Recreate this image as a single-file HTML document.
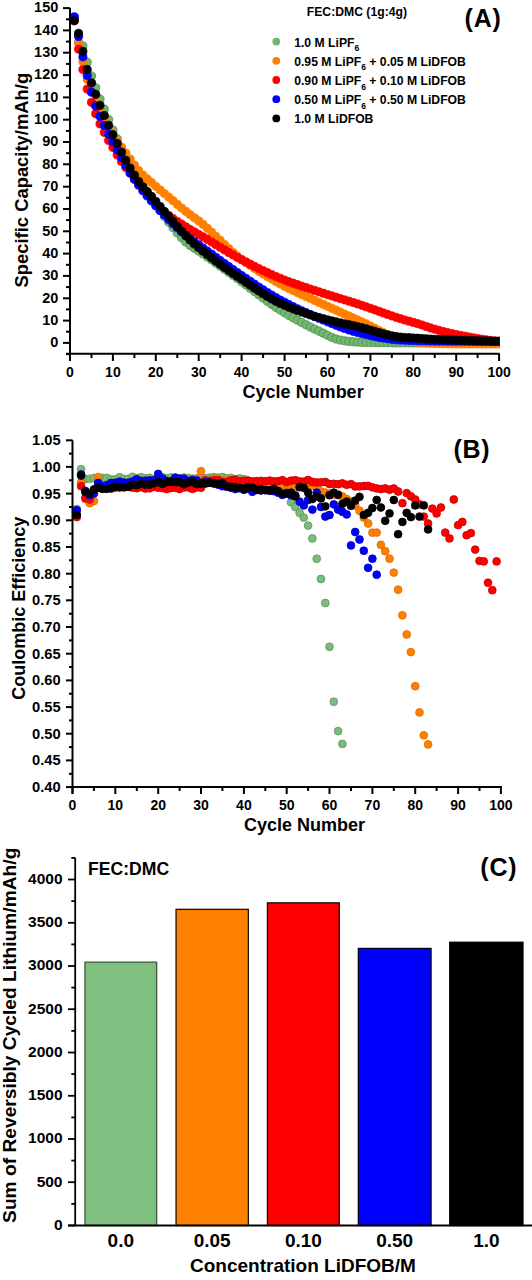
<!DOCTYPE html>
<html><head><meta charset="utf-8"><style>
html,body{margin:0;padding:0;background:#fff;width:532px;height:1280px;overflow:hidden;position:relative}
</style></head><body>
<svg width="532" height="1280" viewBox="0 0 532 1280" style="position:absolute;left:0;top:0">
<rect width="532" height="1280" fill="#fff"/>
<defs><clipPath id="clipA"><rect x="69" y="0" width="430.6" height="360"/></clipPath></defs>
<g clip-path="url(#clipA)">
<g fill="#70b870" stroke="#4a8f4a" stroke-width="0.8"><circle cx="74.3" cy="18.1" r="4.1"/><circle cx="78.6" cy="42.7" r="4.1"/><circle cx="82.9" cy="46.0" r="4.1"/><circle cx="87.2" cy="62.3" r="4.1"/><circle cx="91.5" cy="76.0" r="4.1"/><circle cx="95.7" cy="87.8" r="4.1"/><circle cx="100.0" cy="99.2" r="4.1"/><circle cx="104.3" cy="109.2" r="4.1"/><circle cx="108.6" cy="119.7" r="4.1"/><circle cx="112.9" cy="130.0" r="4.1"/><circle cx="117.2" cy="138.9" r="4.1"/><circle cx="121.5" cy="148.3" r="4.1"/><circle cx="125.8" cy="156.8" r="4.1"/><circle cx="130.1" cy="164.8" r="4.1"/><circle cx="134.4" cy="172.1" r="4.1"/><circle cx="138.7" cy="179.1" r="4.1"/><circle cx="142.9" cy="185.6" r="4.1"/><circle cx="147.2" cy="191.9" r="4.1"/><circle cx="151.5" cy="198.1" r="4.1"/><circle cx="155.8" cy="204.4" r="4.1"/><circle cx="160.1" cy="210.6" r="4.1"/><circle cx="164.4" cy="216.6" r="4.1"/><circle cx="168.7" cy="222.1" r="4.1"/><circle cx="173.0" cy="227.6" r="4.1"/><circle cx="177.3" cy="232.9" r="4.1"/><circle cx="181.6" cy="237.8" r="4.1"/><circle cx="185.9" cy="242.1" r="4.1"/><circle cx="190.1" cy="245.5" r="4.1"/><circle cx="194.4" cy="248.3" r="4.1"/><circle cx="198.7" cy="251.0" r="4.1"/><circle cx="203.0" cy="253.9" r="4.1"/><circle cx="207.3" cy="256.9" r="4.1"/><circle cx="211.6" cy="259.9" r="4.1"/><circle cx="215.9" cy="263.0" r="4.1"/><circle cx="220.2" cy="266.1" r="4.1"/><circle cx="224.5" cy="269.2" r="4.1"/><circle cx="228.8" cy="272.3" r="4.1"/><circle cx="233.1" cy="275.4" r="4.1"/><circle cx="237.3" cy="278.5" r="4.1"/><circle cx="241.6" cy="281.7" r="4.1"/><circle cx="245.9" cy="284.9" r="4.1"/><circle cx="250.2" cy="288.2" r="4.1"/><circle cx="254.5" cy="291.5" r="4.1"/><circle cx="258.8" cy="294.8" r="4.1"/><circle cx="263.1" cy="298.1" r="4.1"/><circle cx="267.4" cy="301.3" r="4.1"/><circle cx="271.7" cy="304.4" r="4.1"/><circle cx="276.0" cy="307.4" r="4.1"/><circle cx="280.3" cy="310.1" r="4.1"/><circle cx="284.6" cy="312.8" r="4.1"/><circle cx="288.8" cy="315.3" r="4.1"/><circle cx="293.1" cy="317.8" r="4.1"/><circle cx="297.4" cy="320.2" r="4.1"/><circle cx="301.7" cy="322.5" r="4.1"/><circle cx="306.0" cy="324.8" r="4.1"/><circle cx="310.3" cy="327.0" r="4.1"/><circle cx="314.6" cy="329.1" r="4.1"/><circle cx="318.9" cy="331.1" r="4.1"/><circle cx="323.2" cy="333.2" r="4.1"/><circle cx="327.5" cy="335.3" r="4.1"/><circle cx="331.8" cy="337.4" r="4.1"/><circle cx="336.0" cy="339.0" r="4.1"/><circle cx="340.3" cy="340.1" r="4.1"/><circle cx="344.6" cy="340.8" r="4.1"/><circle cx="348.9" cy="341.4" r="4.1"/><circle cx="353.2" cy="341.8" r="4.1"/><circle cx="357.5" cy="342.1" r="4.1"/><circle cx="361.8" cy="342.3" r="4.1"/><circle cx="366.1" cy="342.4" r="4.1"/><circle cx="370.4" cy="342.5" r="4.1"/><circle cx="374.7" cy="342.6" r="4.1"/><circle cx="379.0" cy="342.7" r="4.1"/><circle cx="383.2" cy="342.7" r="4.1"/><circle cx="387.5" cy="342.8" r="4.1"/><circle cx="391.8" cy="342.8" r="4.1"/><circle cx="396.1" cy="342.9" r="4.1"/><circle cx="400.4" cy="342.9" r="4.1"/><circle cx="404.7" cy="342.9" r="4.1"/><circle cx="409.0" cy="342.9" r="4.1"/><circle cx="413.3" cy="343.0" r="4.1"/><circle cx="417.6" cy="343.0" r="4.1"/><circle cx="421.9" cy="343.0" r="4.1"/><circle cx="426.2" cy="343.0" r="4.1"/><circle cx="430.4" cy="343.0" r="4.1"/><circle cx="434.7" cy="343.0" r="4.1"/><circle cx="439.0" cy="343.0" r="4.1"/><circle cx="443.3" cy="343.1" r="4.1"/><circle cx="447.6" cy="343.1" r="4.1"/><circle cx="451.9" cy="343.1" r="4.1"/><circle cx="456.2" cy="343.1" r="4.1"/><circle cx="460.5" cy="343.1" r="4.1"/><circle cx="464.8" cy="343.1" r="4.1"/><circle cx="469.1" cy="343.1" r="4.1"/><circle cx="473.4" cy="343.1" r="4.1"/><circle cx="477.6" cy="343.1" r="4.1"/><circle cx="481.9" cy="343.1" r="4.1"/><circle cx="486.2" cy="343.1" r="4.1"/><circle cx="490.5" cy="343.1" r="4.1"/><circle cx="494.8" cy="343.1" r="4.1"/><circle cx="499.1" cy="343.1" r="4.1"/></g>
<g fill="#ff8000" stroke="#ff8000" stroke-width="0.8"><circle cx="74.3" cy="19.3" r="4.1"/><circle cx="78.6" cy="42.5" r="4.1"/><circle cx="82.9" cy="61.7" r="4.1"/><circle cx="87.2" cy="79.5" r="4.1"/><circle cx="91.5" cy="91.7" r="4.1"/><circle cx="95.7" cy="101.8" r="4.1"/><circle cx="100.0" cy="111.3" r="4.1"/><circle cx="104.3" cy="119.7" r="4.1"/><circle cx="108.6" cy="127.3" r="4.1"/><circle cx="112.9" cy="134.2" r="4.1"/><circle cx="117.2" cy="140.8" r="4.1"/><circle cx="121.5" cy="147.0" r="4.1"/><circle cx="125.8" cy="153.0" r="4.1"/><circle cx="130.1" cy="159.0" r="4.1"/><circle cx="134.4" cy="165.0" r="4.1"/><circle cx="138.7" cy="170.7" r="4.1"/><circle cx="142.9" cy="175.1" r="4.1"/><circle cx="147.2" cy="178.9" r="4.1"/><circle cx="151.5" cy="182.6" r="4.1"/><circle cx="155.8" cy="186.3" r="4.1"/><circle cx="160.1" cy="189.9" r="4.1"/><circle cx="164.4" cy="193.5" r="4.1"/><circle cx="168.7" cy="197.1" r="4.1"/><circle cx="173.0" cy="200.7" r="4.1"/><circle cx="177.3" cy="204.4" r="4.1"/><circle cx="181.6" cy="208.0" r="4.1"/><circle cx="185.9" cy="211.4" r="4.1"/><circle cx="190.1" cy="214.7" r="4.1"/><circle cx="194.4" cy="217.8" r="4.1"/><circle cx="198.7" cy="220.9" r="4.1"/><circle cx="203.0" cy="224.4" r="4.1"/><circle cx="207.3" cy="228.2" r="4.1"/><circle cx="211.6" cy="232.2" r="4.1"/><circle cx="215.9" cy="236.3" r="4.1"/><circle cx="220.2" cy="240.4" r="4.1"/><circle cx="224.5" cy="244.6" r="4.1"/><circle cx="228.8" cy="248.6" r="4.1"/><circle cx="233.1" cy="252.5" r="4.1"/><circle cx="237.3" cy="256.1" r="4.1"/><circle cx="241.6" cy="259.4" r="4.1"/><circle cx="245.9" cy="262.5" r="4.1"/><circle cx="250.2" cy="265.5" r="4.1"/><circle cx="254.5" cy="268.4" r="4.1"/><circle cx="258.8" cy="271.3" r="4.1"/><circle cx="263.1" cy="274.0" r="4.1"/><circle cx="267.4" cy="276.6" r="4.1"/><circle cx="271.7" cy="279.1" r="4.1"/><circle cx="276.0" cy="281.6" r="4.1"/><circle cx="280.3" cy="284.0" r="4.1"/><circle cx="284.6" cy="286.3" r="4.1"/><circle cx="288.8" cy="288.4" r="4.1"/><circle cx="293.1" cy="290.5" r="4.1"/><circle cx="297.4" cy="292.6" r="4.1"/><circle cx="301.7" cy="294.6" r="4.1"/><circle cx="306.0" cy="296.5" r="4.1"/><circle cx="310.3" cy="298.4" r="4.1"/><circle cx="314.6" cy="300.4" r="4.1"/><circle cx="318.9" cy="302.4" r="4.1"/><circle cx="323.2" cy="304.3" r="4.1"/><circle cx="327.5" cy="306.3" r="4.1"/><circle cx="331.8" cy="308.3" r="4.1"/><circle cx="336.0" cy="310.2" r="4.1"/><circle cx="340.3" cy="312.2" r="4.1"/><circle cx="344.6" cy="314.1" r="4.1"/><circle cx="348.9" cy="316.0" r="4.1"/><circle cx="353.2" cy="317.9" r="4.1"/><circle cx="357.5" cy="319.9" r="4.1"/><circle cx="361.8" cy="321.8" r="4.1"/><circle cx="366.1" cy="323.9" r="4.1"/><circle cx="370.4" cy="326.1" r="4.1"/><circle cx="374.7" cy="328.3" r="4.1"/><circle cx="379.0" cy="330.5" r="4.1"/><circle cx="383.2" cy="332.6" r="4.1"/><circle cx="387.5" cy="334.5" r="4.1"/><circle cx="391.8" cy="336.3" r="4.1"/><circle cx="396.1" cy="337.8" r="4.1"/><circle cx="400.4" cy="339.0" r="4.1"/><circle cx="404.7" cy="339.9" r="4.1"/><circle cx="409.0" cy="340.8" r="4.1"/><circle cx="413.3" cy="341.5" r="4.1"/><circle cx="417.6" cy="342.0" r="4.1"/><circle cx="421.9" cy="342.4" r="4.1"/><circle cx="426.2" cy="342.8" r="4.1"/><circle cx="430.4" cy="343.1" r="4.1"/><circle cx="434.7" cy="343.4" r="4.1"/><circle cx="439.0" cy="343.6" r="4.1"/><circle cx="443.3" cy="343.7" r="4.1"/><circle cx="447.6" cy="343.8" r="4.1"/><circle cx="451.9" cy="343.9" r="4.1"/><circle cx="456.2" cy="344.0" r="4.1"/><circle cx="460.5" cy="344.0" r="4.1"/><circle cx="464.8" cy="344.0" r="4.1"/><circle cx="469.1" cy="344.0" r="4.1"/><circle cx="473.4" cy="344.0" r="4.1"/><circle cx="477.6" cy="344.0" r="4.1"/><circle cx="481.9" cy="344.0" r="4.1"/><circle cx="486.2" cy="344.0" r="4.1"/><circle cx="490.5" cy="344.0" r="4.1"/><circle cx="494.8" cy="344.0" r="4.1"/><circle cx="499.1" cy="344.0" r="4.1"/></g>
<g fill="#ff0000" stroke="#ff0000" stroke-width="0.8"><circle cx="74.3" cy="20.4" r="4.1"/><circle cx="78.6" cy="49.2" r="4.1"/><circle cx="82.9" cy="69.5" r="4.1"/><circle cx="87.2" cy="89.1" r="4.1"/><circle cx="91.5" cy="102.3" r="4.1"/><circle cx="95.7" cy="113.7" r="4.1"/><circle cx="100.0" cy="123.9" r="4.1"/><circle cx="104.3" cy="132.4" r="4.1"/><circle cx="108.6" cy="140.5" r="4.1"/><circle cx="112.9" cy="147.4" r="4.1"/><circle cx="117.2" cy="155.0" r="4.1"/><circle cx="121.5" cy="161.4" r="4.1"/><circle cx="125.8" cy="167.5" r="4.1"/><circle cx="130.1" cy="173.3" r="4.1"/><circle cx="134.4" cy="178.9" r="4.1"/><circle cx="138.7" cy="184.4" r="4.1"/><circle cx="142.9" cy="189.8" r="4.1"/><circle cx="147.2" cy="195.1" r="4.1"/><circle cx="151.5" cy="199.9" r="4.1"/><circle cx="155.8" cy="204.2" r="4.1"/><circle cx="160.1" cy="208.3" r="4.1"/><circle cx="164.4" cy="212.1" r="4.1"/><circle cx="168.7" cy="215.4" r="4.1"/><circle cx="173.0" cy="218.6" r="4.1"/><circle cx="177.3" cy="221.5" r="4.1"/><circle cx="181.6" cy="224.2" r="4.1"/><circle cx="185.9" cy="226.9" r="4.1"/><circle cx="190.1" cy="229.5" r="4.1"/><circle cx="194.4" cy="231.9" r="4.1"/><circle cx="198.7" cy="234.4" r="4.1"/><circle cx="203.0" cy="236.9" r="4.1"/><circle cx="207.3" cy="239.4" r="4.1"/><circle cx="211.6" cy="242.0" r="4.1"/><circle cx="215.9" cy="244.7" r="4.1"/><circle cx="220.2" cy="247.3" r="4.1"/><circle cx="224.5" cy="249.9" r="4.1"/><circle cx="228.8" cy="252.5" r="4.1"/><circle cx="233.1" cy="254.9" r="4.1"/><circle cx="237.3" cy="257.4" r="4.1"/><circle cx="241.6" cy="259.7" r="4.1"/><circle cx="245.9" cy="261.9" r="4.1"/><circle cx="250.2" cy="264.2" r="4.1"/><circle cx="254.5" cy="266.4" r="4.1"/><circle cx="258.8" cy="268.6" r="4.1"/><circle cx="263.1" cy="270.7" r="4.1"/><circle cx="267.4" cy="272.7" r="4.1"/><circle cx="271.7" cy="274.7" r="4.1"/><circle cx="276.0" cy="276.6" r="4.1"/><circle cx="280.3" cy="278.3" r="4.1"/><circle cx="284.6" cy="280.0" r="4.1"/><circle cx="288.8" cy="281.7" r="4.1"/><circle cx="293.1" cy="283.2" r="4.1"/><circle cx="297.4" cy="284.7" r="4.1"/><circle cx="301.7" cy="286.2" r="4.1"/><circle cx="306.0" cy="287.6" r="4.1"/><circle cx="310.3" cy="289.0" r="4.1"/><circle cx="314.6" cy="290.4" r="4.1"/><circle cx="318.9" cy="291.8" r="4.1"/><circle cx="323.2" cy="293.2" r="4.1"/><circle cx="327.5" cy="294.6" r="4.1"/><circle cx="331.8" cy="295.9" r="4.1"/><circle cx="336.0" cy="297.2" r="4.1"/><circle cx="340.3" cy="298.6" r="4.1"/><circle cx="344.6" cy="299.9" r="4.1"/><circle cx="348.9" cy="301.2" r="4.1"/><circle cx="353.2" cy="302.5" r="4.1"/><circle cx="357.5" cy="303.9" r="4.1"/><circle cx="361.8" cy="305.3" r="4.1"/><circle cx="366.1" cy="306.8" r="4.1"/><circle cx="370.4" cy="308.3" r="4.1"/><circle cx="374.7" cy="309.8" r="4.1"/><circle cx="379.0" cy="311.3" r="4.1"/><circle cx="383.2" cy="312.9" r="4.1"/><circle cx="387.5" cy="314.4" r="4.1"/><circle cx="391.8" cy="315.9" r="4.1"/><circle cx="396.1" cy="317.3" r="4.1"/><circle cx="400.4" cy="318.7" r="4.1"/><circle cx="404.7" cy="320.0" r="4.1"/><circle cx="409.0" cy="321.2" r="4.1"/><circle cx="413.3" cy="322.4" r="4.1"/><circle cx="417.6" cy="323.7" r="4.1"/><circle cx="421.9" cy="325.0" r="4.1"/><circle cx="426.2" cy="326.5" r="4.1"/><circle cx="430.4" cy="327.9" r="4.1"/><circle cx="434.7" cy="329.2" r="4.1"/><circle cx="439.0" cy="330.4" r="4.1"/><circle cx="443.3" cy="331.5" r="4.1"/><circle cx="447.6" cy="332.6" r="4.1"/><circle cx="451.9" cy="333.6" r="4.1"/><circle cx="456.2" cy="334.5" r="4.1"/><circle cx="460.5" cy="335.4" r="4.1"/><circle cx="464.8" cy="336.2" r="4.1"/><circle cx="469.1" cy="337.0" r="4.1"/><circle cx="473.4" cy="337.8" r="4.1"/><circle cx="477.6" cy="338.5" r="4.1"/><circle cx="481.9" cy="339.2" r="4.1"/><circle cx="486.2" cy="339.8" r="4.1"/><circle cx="490.5" cy="340.5" r="4.1"/><circle cx="494.8" cy="341.0" r="4.1"/><circle cx="499.1" cy="341.6" r="4.1"/></g>
<g fill="#0000ff" stroke="#0000ff" stroke-width="0.8"><circle cx="74.3" cy="16.8" r="4.1"/><circle cx="78.6" cy="36.4" r="4.1"/><circle cx="82.9" cy="56.8" r="4.1"/><circle cx="87.2" cy="75.5" r="4.1"/><circle cx="91.5" cy="92.2" r="4.1"/><circle cx="95.7" cy="106.1" r="4.1"/><circle cx="100.0" cy="116.4" r="4.1"/><circle cx="104.3" cy="125.5" r="4.1"/><circle cx="108.6" cy="134.2" r="4.1"/><circle cx="112.9" cy="141.8" r="4.1"/><circle cx="117.2" cy="149.8" r="4.1"/><circle cx="121.5" cy="157.6" r="4.1"/><circle cx="125.8" cy="165.5" r="4.1"/><circle cx="130.1" cy="172.8" r="4.1"/><circle cx="134.4" cy="179.3" r="4.1"/><circle cx="138.7" cy="185.2" r="4.1"/><circle cx="142.9" cy="190.7" r="4.1"/><circle cx="147.2" cy="195.9" r="4.1"/><circle cx="151.5" cy="200.9" r="4.1"/><circle cx="155.8" cy="205.8" r="4.1"/><circle cx="160.1" cy="210.5" r="4.1"/><circle cx="164.4" cy="215.0" r="4.1"/><circle cx="168.7" cy="219.4" r="4.1"/><circle cx="173.0" cy="223.7" r="4.1"/><circle cx="177.3" cy="227.8" r="4.1"/><circle cx="181.6" cy="231.8" r="4.1"/><circle cx="185.9" cy="235.5" r="4.1"/><circle cx="190.1" cy="238.9" r="4.1"/><circle cx="194.4" cy="241.9" r="4.1"/><circle cx="198.7" cy="244.9" r="4.1"/><circle cx="203.0" cy="248.0" r="4.1"/><circle cx="207.3" cy="251.1" r="4.1"/><circle cx="211.6" cy="254.2" r="4.1"/><circle cx="215.9" cy="257.3" r="4.1"/><circle cx="220.2" cy="260.5" r="4.1"/><circle cx="224.5" cy="263.6" r="4.1"/><circle cx="228.8" cy="266.6" r="4.1"/><circle cx="233.1" cy="269.7" r="4.1"/><circle cx="237.3" cy="272.6" r="4.1"/><circle cx="241.6" cy="275.5" r="4.1"/><circle cx="245.9" cy="278.4" r="4.1"/><circle cx="250.2" cy="281.3" r="4.1"/><circle cx="254.5" cy="284.2" r="4.1"/><circle cx="258.8" cy="287.1" r="4.1"/><circle cx="263.1" cy="289.8" r="4.1"/><circle cx="267.4" cy="292.6" r="4.1"/><circle cx="271.7" cy="295.2" r="4.1"/><circle cx="276.0" cy="297.7" r="4.1"/><circle cx="280.3" cy="300.1" r="4.1"/><circle cx="284.6" cy="302.3" r="4.1"/><circle cx="288.8" cy="304.5" r="4.1"/><circle cx="293.1" cy="306.7" r="4.1"/><circle cx="297.4" cy="308.8" r="4.1"/><circle cx="301.7" cy="310.8" r="4.1"/><circle cx="306.0" cy="312.7" r="4.1"/><circle cx="310.3" cy="314.6" r="4.1"/><circle cx="314.6" cy="316.5" r="4.1"/><circle cx="318.9" cy="318.3" r="4.1"/><circle cx="323.2" cy="320.0" r="4.1"/><circle cx="327.5" cy="321.8" r="4.1"/><circle cx="331.8" cy="323.5" r="4.1"/><circle cx="336.0" cy="325.2" r="4.1"/><circle cx="340.3" cy="326.9" r="4.1"/><circle cx="344.6" cy="328.4" r="4.1"/><circle cx="348.9" cy="329.9" r="4.1"/><circle cx="353.2" cy="331.3" r="4.1"/><circle cx="357.5" cy="332.4" r="4.1"/><circle cx="361.8" cy="333.5" r="4.1"/><circle cx="366.1" cy="334.5" r="4.1"/><circle cx="370.4" cy="335.5" r="4.1"/><circle cx="374.7" cy="336.4" r="4.1"/><circle cx="379.0" cy="337.3" r="4.1"/><circle cx="383.2" cy="338.0" r="4.1"/><circle cx="387.5" cy="338.7" r="4.1"/><circle cx="391.8" cy="339.3" r="4.1"/><circle cx="396.1" cy="339.7" r="4.1"/><circle cx="400.4" cy="340.0" r="4.1"/><circle cx="404.7" cy="340.2" r="4.1"/><circle cx="409.0" cy="340.4" r="4.1"/><circle cx="413.3" cy="340.6" r="4.1"/><circle cx="417.6" cy="340.7" r="4.1"/><circle cx="421.9" cy="340.8" r="4.1"/><circle cx="426.2" cy="340.9" r="4.1"/><circle cx="430.4" cy="341.0" r="4.1"/><circle cx="434.7" cy="341.1" r="4.1"/><circle cx="439.0" cy="341.1" r="4.1"/><circle cx="443.3" cy="341.1" r="4.1"/><circle cx="447.6" cy="341.2" r="4.1"/><circle cx="451.9" cy="341.2" r="4.1"/><circle cx="456.2" cy="341.2" r="4.1"/><circle cx="460.5" cy="341.2" r="4.1"/><circle cx="464.8" cy="341.2" r="4.1"/><circle cx="469.1" cy="341.3" r="4.1"/><circle cx="473.4" cy="341.3" r="4.1"/><circle cx="477.6" cy="341.3" r="4.1"/><circle cx="481.9" cy="341.4" r="4.1"/><circle cx="486.2" cy="341.4" r="4.1"/><circle cx="490.5" cy="341.5" r="4.1"/><circle cx="494.8" cy="341.5" r="4.1"/><circle cx="499.1" cy="341.6" r="4.1"/></g>
<g fill="#000000" stroke="#000000" stroke-width="0.8"><circle cx="74.3" cy="20.8" r="4.1"/><circle cx="78.6" cy="33.3" r="4.1"/><circle cx="82.9" cy="51.4" r="4.1"/><circle cx="87.2" cy="69.5" r="4.1"/><circle cx="91.5" cy="82.9" r="4.1"/><circle cx="95.7" cy="94.3" r="4.1"/><circle cx="100.0" cy="105.4" r="4.1"/><circle cx="104.3" cy="115.5" r="4.1"/><circle cx="108.6" cy="125.3" r="4.1"/><circle cx="112.9" cy="134.7" r="4.1"/><circle cx="117.2" cy="143.5" r="4.1"/><circle cx="121.5" cy="152.1" r="4.1"/><circle cx="125.8" cy="160.4" r="4.1"/><circle cx="130.1" cy="168.1" r="4.1"/><circle cx="134.4" cy="175.2" r="4.1"/><circle cx="138.7" cy="181.6" r="4.1"/><circle cx="142.9" cy="186.9" r="4.1"/><circle cx="147.2" cy="191.6" r="4.1"/><circle cx="151.5" cy="196.4" r="4.1"/><circle cx="155.8" cy="201.4" r="4.1"/><circle cx="160.1" cy="206.5" r="4.1"/><circle cx="164.4" cy="211.5" r="4.1"/><circle cx="168.7" cy="216.4" r="4.1"/><circle cx="173.0" cy="221.4" r="4.1"/><circle cx="177.3" cy="226.4" r="4.1"/><circle cx="181.6" cy="231.2" r="4.1"/><circle cx="185.9" cy="235.8" r="4.1"/><circle cx="190.1" cy="240.0" r="4.1"/><circle cx="194.4" cy="244.0" r="4.1"/><circle cx="198.7" cy="247.6" r="4.1"/><circle cx="203.0" cy="251.2" r="4.1"/><circle cx="207.3" cy="254.6" r="4.1"/><circle cx="211.6" cy="257.9" r="4.1"/><circle cx="215.9" cy="261.2" r="4.1"/><circle cx="220.2" cy="264.3" r="4.1"/><circle cx="224.5" cy="267.4" r="4.1"/><circle cx="228.8" cy="270.5" r="4.1"/><circle cx="233.1" cy="273.5" r="4.1"/><circle cx="237.3" cy="276.4" r="4.1"/><circle cx="241.6" cy="279.3" r="4.1"/><circle cx="245.9" cy="282.3" r="4.1"/><circle cx="250.2" cy="285.2" r="4.1"/><circle cx="254.5" cy="288.2" r="4.1"/><circle cx="258.8" cy="291.0" r="4.1"/><circle cx="263.1" cy="293.8" r="4.1"/><circle cx="267.4" cy="296.5" r="4.1"/><circle cx="271.7" cy="299.0" r="4.1"/><circle cx="276.0" cy="301.3" r="4.1"/><circle cx="280.3" cy="303.4" r="4.1"/><circle cx="284.6" cy="305.3" r="4.1"/><circle cx="288.8" cy="307.1" r="4.1"/><circle cx="293.1" cy="308.8" r="4.1"/><circle cx="297.4" cy="310.5" r="4.1"/><circle cx="301.7" cy="312.0" r="4.1"/><circle cx="306.0" cy="313.5" r="4.1"/><circle cx="310.3" cy="314.9" r="4.1"/><circle cx="314.6" cy="316.3" r="4.1"/><circle cx="318.9" cy="317.5" r="4.1"/><circle cx="323.2" cy="318.7" r="4.1"/><circle cx="327.5" cy="319.9" r="4.1"/><circle cx="331.8" cy="320.9" r="4.1"/><circle cx="336.0" cy="321.9" r="4.1"/><circle cx="340.3" cy="322.9" r="4.1"/><circle cx="344.6" cy="323.8" r="4.1"/><circle cx="348.9" cy="324.7" r="4.1"/><circle cx="353.2" cy="325.7" r="4.1"/><circle cx="357.5" cy="326.7" r="4.1"/><circle cx="361.8" cy="327.7" r="4.1"/><circle cx="366.1" cy="328.8" r="4.1"/><circle cx="370.4" cy="330.1" r="4.1"/><circle cx="374.7" cy="331.3" r="4.1"/><circle cx="379.0" cy="332.6" r="4.1"/><circle cx="383.2" cy="333.8" r="4.1"/><circle cx="387.5" cy="334.9" r="4.1"/><circle cx="391.8" cy="335.9" r="4.1"/><circle cx="396.1" cy="336.6" r="4.1"/><circle cx="400.4" cy="337.1" r="4.1"/><circle cx="404.7" cy="337.5" r="4.1"/><circle cx="409.0" cy="337.7" r="4.1"/><circle cx="413.3" cy="338.0" r="4.1"/><circle cx="417.6" cy="338.2" r="4.1"/><circle cx="421.9" cy="338.5" r="4.1"/><circle cx="426.2" cy="338.8" r="4.1"/><circle cx="430.4" cy="339.1" r="4.1"/><circle cx="434.7" cy="339.3" r="4.1"/><circle cx="439.0" cy="339.6" r="4.1"/><circle cx="443.3" cy="339.7" r="4.1"/><circle cx="447.6" cy="339.9" r="4.1"/><circle cx="451.9" cy="340.1" r="4.1"/><circle cx="456.2" cy="340.2" r="4.1"/><circle cx="460.5" cy="340.3" r="4.1"/><circle cx="464.8" cy="340.4" r="4.1"/><circle cx="469.1" cy="340.6" r="4.1"/><circle cx="473.4" cy="340.7" r="4.1"/><circle cx="477.6" cy="340.8" r="4.1"/><circle cx="481.9" cy="340.8" r="4.1"/><circle cx="486.2" cy="340.9" r="4.1"/><circle cx="490.5" cy="341.0" r="4.1"/><circle cx="494.8" cy="341.1" r="4.1"/><circle cx="499.1" cy="341.1" r="4.1"/></g>
</g>
<g stroke="#000" stroke-width="2" fill="none">
<path d="M70 8.1 V361 M66 353.8 H499.6"/>
<path d="M66 354.1 H70"/>
<path d="M63 342.9 H70"/>
<path d="M66 331.7 H70"/>
<path d="M63 320.6 H70"/>
<path d="M66 309.4 H70"/>
<path d="M63 298.3 H70"/>
<path d="M66 287.1 H70"/>
<path d="M63 275.9 H70"/>
<path d="M66 264.8 H70"/>
<path d="M63 253.6 H70"/>
<path d="M66 242.5 H70"/>
<path d="M63 231.3 H70"/>
<path d="M66 220.1 H70"/>
<path d="M63 209.0 H70"/>
<path d="M66 197.8 H70"/>
<path d="M63 186.7 H70"/>
<path d="M66 175.5 H70"/>
<path d="M63 164.3 H70"/>
<path d="M66 153.2 H70"/>
<path d="M63 142.0 H70"/>
<path d="M66 130.9 H70"/>
<path d="M63 119.7 H70"/>
<path d="M66 108.5 H70"/>
<path d="M63 97.4 H70"/>
<path d="M66 86.2 H70"/>
<path d="M63 75.1 H70"/>
<path d="M66 63.9 H70"/>
<path d="M63 52.7 H70"/>
<path d="M66 41.6 H70"/>
<path d="M63 30.4 H70"/>
<path d="M66 19.3 H70"/>
<path d="M63 8.1 H70"/>
<path d="M70.0 353.8 V361"/>
<path d="M91.5 353.8 V358"/>
<path d="M112.9 353.8 V361"/>
<path d="M134.4 353.8 V358"/>
<path d="M155.8 353.8 V361"/>
<path d="M177.3 353.8 V358"/>
<path d="M198.7 353.8 V361"/>
<path d="M220.2 353.8 V358"/>
<path d="M241.6 353.8 V361"/>
<path d="M263.1 353.8 V358"/>
<path d="M284.6 353.8 V361"/>
<path d="M306.0 353.8 V358"/>
<path d="M327.5 353.8 V361"/>
<path d="M348.9 353.8 V358"/>
<path d="M370.4 353.8 V361"/>
<path d="M391.8 353.8 V358"/>
<path d="M413.3 353.8 V361"/>
<path d="M434.7 353.8 V358"/>
<path d="M456.2 353.8 V361"/>
<path d="M477.6 353.8 V358"/>
<path d="M499.1 353.8 V361"/>
</g>
<g font-family='"Liberation Sans", sans-serif' font-weight="bold" fill="#000">
<text x="58.3" y="347.2" font-size="14.5" text-anchor="end">0</text>
<text x="58.3" y="324.9" font-size="14.5" text-anchor="end">10</text>
<text x="58.3" y="302.6" font-size="14.5" text-anchor="end">20</text>
<text x="58.3" y="280.2" font-size="14.5" text-anchor="end">30</text>
<text x="58.3" y="257.9" font-size="14.5" text-anchor="end">40</text>
<text x="58.3" y="235.6" font-size="14.5" text-anchor="end">50</text>
<text x="58.3" y="213.3" font-size="14.5" text-anchor="end">60</text>
<text x="58.3" y="191.0" font-size="14.5" text-anchor="end">70</text>
<text x="58.3" y="168.6" font-size="14.5" text-anchor="end">80</text>
<text x="58.3" y="146.3" font-size="14.5" text-anchor="end">90</text>
<text x="58.3" y="124.0" font-size="14.5" text-anchor="end">100</text>
<text x="58.3" y="101.7" font-size="14.5" text-anchor="end">110</text>
<text x="58.3" y="79.4" font-size="14.5" text-anchor="end">120</text>
<text x="58.3" y="57.0" font-size="14.5" text-anchor="end">130</text>
<text x="58.3" y="34.7" font-size="14.5" text-anchor="end">140</text>
<text x="58.3" y="12.4" font-size="14.5" text-anchor="end">150</text>
<text x="70.0" y="376.6" font-size="14" text-anchor="middle">0</text>
<text x="112.9" y="376.6" font-size="14" text-anchor="middle">10</text>
<text x="155.8" y="376.6" font-size="14" text-anchor="middle">20</text>
<text x="198.7" y="376.6" font-size="14" text-anchor="middle">30</text>
<text x="241.6" y="376.6" font-size="14" text-anchor="middle">40</text>
<text x="284.6" y="376.6" font-size="14" text-anchor="middle">50</text>
<text x="327.5" y="376.6" font-size="14" text-anchor="middle">60</text>
<text x="370.4" y="376.6" font-size="14" text-anchor="middle">70</text>
<text x="413.3" y="376.6" font-size="14" text-anchor="middle">80</text>
<text x="456.2" y="376.6" font-size="14" text-anchor="middle">90</text>
<text x="499.1" y="376.6" font-size="14" text-anchor="middle">100</text>
<text x="242.6" y="398.2" font-size="18">Cycle Number</text>
<text transform="translate(27.6 287.5) rotate(-90)" font-size="18.4">Specific Capacity/mAh/g</text>
<text x="464.6" y="27.0" font-size="25" letter-spacing="0.8">(A)</text>
<text x="306.8" y="16.3" font-size="12.2">FEC:DMC (1g:4g)</text>
<circle cx="276.3" cy="41.6" r="3.9" fill="#70b870" stroke="none"/>
<text x="294.2" y="46.6" font-size="12.2">1.0 M LiPF<tspan font-size="8.5" dy="4.5">6</tspan></text>
<circle cx="276.3" cy="60.8" r="3.9" fill="#ff8000" stroke="none"/>
<text x="294.2" y="65.8" font-size="12.2">0.95 M LiPF<tspan font-size="8.5" dy="4.5">6</tspan><tspan dy="-4.5"> + 0.05 M LiDFOB</tspan></text>
<circle cx="276.3" cy="80.0" r="3.9" fill="#ff0000" stroke="none"/>
<text x="294.2" y="85.0" font-size="12.2">0.90 M LiPF<tspan font-size="8.5" dy="4.5">6</tspan><tspan dy="-4.5"> + 0.10 M LiDFOB</tspan></text>
<circle cx="276.3" cy="99.2" r="3.9" fill="#0000ff" stroke="none"/>
<text x="294.2" y="104.2" font-size="12.2">0.50 M LiPF<tspan font-size="8.5" dy="4.5">6</tspan><tspan dy="-4.5"> + 0.50 M LiDFOB</tspan></text>
<circle cx="276.3" cy="118.4" r="3.9" fill="#000000" stroke="none"/>
<text x="294.2" y="123.4" font-size="12.2">1.0 M LiDFOB</text>
</g>
<g fill="#7bbb7b" stroke="#5a965a" stroke-width="0.8"><circle cx="76.8" cy="509.1" r="3.9"/><circle cx="81.1" cy="469.1" r="3.9"/><circle cx="85.4" cy="479.2" r="3.9"/><circle cx="89.6" cy="478.8" r="3.9"/><circle cx="93.9" cy="478.0" r="3.9"/><circle cx="98.2" cy="478.5" r="3.9"/><circle cx="102.5" cy="477.9" r="3.9"/><circle cx="106.8" cy="477.8" r="3.9"/><circle cx="111.1" cy="479.3" r="3.9"/><circle cx="115.3" cy="479.4" r="3.9"/><circle cx="119.6" cy="477.2" r="3.9"/><circle cx="123.9" cy="478.8" r="3.9"/><circle cx="128.2" cy="478.9" r="3.9"/><circle cx="132.5" cy="476.8" r="3.9"/><circle cx="136.8" cy="478.2" r="3.9"/><circle cx="141.0" cy="477.2" r="3.9"/><circle cx="145.3" cy="478.2" r="3.9"/><circle cx="149.6" cy="477.8" r="3.9"/><circle cx="153.9" cy="479.1" r="3.9"/><circle cx="158.2" cy="477.8" r="3.9"/><circle cx="162.5" cy="477.2" r="3.9"/><circle cx="166.7" cy="478.1" r="3.9"/><circle cx="171.0" cy="477.5" r="3.9"/><circle cx="175.3" cy="477.7" r="3.9"/><circle cx="179.6" cy="479.3" r="3.9"/><circle cx="183.9" cy="477.5" r="3.9"/><circle cx="188.2" cy="477.9" r="3.9"/><circle cx="192.5" cy="478.7" r="3.9"/><circle cx="196.7" cy="479.4" r="3.9"/><circle cx="201.0" cy="477.2" r="3.9"/><circle cx="205.3" cy="478.2" r="3.9"/><circle cx="209.6" cy="477.6" r="3.9"/><circle cx="213.9" cy="477.1" r="3.9"/><circle cx="218.2" cy="477.6" r="3.9"/><circle cx="222.4" cy="477.0" r="3.9"/><circle cx="226.7" cy="478.4" r="3.9"/><circle cx="231.0" cy="477.8" r="3.9"/><circle cx="235.3" cy="479.3" r="3.9"/><circle cx="239.6" cy="478.4" r="3.9"/><circle cx="243.9" cy="479.1" r="3.9"/><circle cx="248.1" cy="481.6" r="3.9"/><circle cx="252.4" cy="482.0" r="3.9"/><circle cx="256.7" cy="482.3" r="3.9"/><circle cx="261.0" cy="480.7" r="3.9"/><circle cx="265.3" cy="482.6" r="3.9"/><circle cx="269.6" cy="482.6" r="3.9"/><circle cx="273.8" cy="484.0" r="3.9"/><circle cx="278.1" cy="483.9" r="3.9"/><circle cx="282.4" cy="484.7" r="3.9"/><circle cx="286.7" cy="492.6" r="3.9"/><circle cx="291.0" cy="502.2" r="3.9"/><circle cx="295.3" cy="507.0" r="3.9"/><circle cx="299.6" cy="512.8" r="3.9"/><circle cx="303.8" cy="517.6" r="3.9"/><circle cx="308.1" cy="525.6" r="3.9"/><circle cx="312.4" cy="538.4" r="3.9"/><circle cx="316.7" cy="558.7" r="3.9"/><circle cx="321.0" cy="579.0" r="3.9"/><circle cx="325.3" cy="603.0" r="3.9"/><circle cx="329.5" cy="646.8" r="3.9"/><circle cx="333.8" cy="701.7" r="3.9"/><circle cx="338.1" cy="731.1" r="3.9"/><circle cx="342.4" cy="743.9" r="3.9"/></g>
<g fill="#ff8000" stroke="#e06800" stroke-width="0.8"><circle cx="76.8" cy="515.0" r="3.9"/><circle cx="81.1" cy="482.4" r="3.9"/><circle cx="85.4" cy="499.0" r="3.9"/><circle cx="89.6" cy="503.2" r="3.9"/><circle cx="93.9" cy="501.1" r="3.9"/><circle cx="98.2" cy="477.1" r="3.9"/><circle cx="102.5" cy="486.9" r="3.9"/><circle cx="106.8" cy="486.9" r="3.9"/><circle cx="111.1" cy="485.9" r="3.9"/><circle cx="115.3" cy="486.6" r="3.9"/><circle cx="119.6" cy="485.8" r="3.9"/><circle cx="123.9" cy="486.1" r="3.9"/><circle cx="128.2" cy="485.6" r="3.9"/><circle cx="132.5" cy="486.7" r="3.9"/><circle cx="136.8" cy="488.3" r="3.9"/><circle cx="141.0" cy="486.1" r="3.9"/><circle cx="145.3" cy="485.7" r="3.9"/><circle cx="149.6" cy="485.9" r="3.9"/><circle cx="153.9" cy="487.0" r="3.9"/><circle cx="158.2" cy="486.5" r="3.9"/><circle cx="162.5" cy="488.1" r="3.9"/><circle cx="166.7" cy="486.2" r="3.9"/><circle cx="171.0" cy="487.0" r="3.9"/><circle cx="175.3" cy="487.9" r="3.9"/><circle cx="179.6" cy="488.6" r="3.9"/><circle cx="183.9" cy="486.1" r="3.9"/><circle cx="188.2" cy="485.6" r="3.9"/><circle cx="192.5" cy="480.5" r="3.9"/><circle cx="196.7" cy="478.3" r="3.9"/><circle cx="201.0" cy="471.2" r="3.9"/><circle cx="205.3" cy="480.3" r="3.9"/><circle cx="209.6" cy="479.9" r="3.9"/><circle cx="213.9" cy="478.7" r="3.9"/><circle cx="218.2" cy="478.7" r="3.9"/><circle cx="222.4" cy="481.6" r="3.9"/><circle cx="226.7" cy="480.1" r="3.9"/><circle cx="231.0" cy="482.3" r="3.9"/><circle cx="235.3" cy="480.4" r="3.9"/><circle cx="239.6" cy="482.0" r="3.9"/><circle cx="243.9" cy="480.6" r="3.9"/><circle cx="248.1" cy="480.6" r="3.9"/><circle cx="252.4" cy="482.4" r="3.9"/><circle cx="256.7" cy="481.1" r="3.9"/><circle cx="261.0" cy="483.7" r="3.9"/><circle cx="265.3" cy="484.7" r="3.9"/><circle cx="269.6" cy="483.4" r="3.9"/><circle cx="273.8" cy="485.5" r="3.9"/><circle cx="278.1" cy="485.3" r="3.9"/><circle cx="282.4" cy="485.0" r="3.9"/><circle cx="286.7" cy="484.6" r="3.9"/><circle cx="291.0" cy="486.4" r="3.9"/><circle cx="295.3" cy="487.1" r="3.9"/><circle cx="299.6" cy="484.8" r="3.9"/><circle cx="303.8" cy="486.9" r="3.9"/><circle cx="308.1" cy="485.1" r="3.9"/><circle cx="312.4" cy="485.6" r="3.9"/><circle cx="316.7" cy="487.6" r="3.9"/><circle cx="321.0" cy="491.5" r="3.9"/><circle cx="325.3" cy="492.6" r="3.9"/><circle cx="329.5" cy="493.6" r="3.9"/><circle cx="333.8" cy="494.7" r="3.9"/><circle cx="338.1" cy="495.2" r="3.9"/><circle cx="342.4" cy="496.3" r="3.9"/><circle cx="346.7" cy="499.0" r="3.9"/><circle cx="351.0" cy="501.6" r="3.9"/><circle cx="355.2" cy="505.4" r="3.9"/><circle cx="359.5" cy="510.7" r="3.9"/><circle cx="363.8" cy="517.6" r="3.9"/><circle cx="368.1" cy="523.5" r="3.9"/><circle cx="372.4" cy="532.6" r="3.9"/><circle cx="376.7" cy="532.6" r="3.9"/><circle cx="380.9" cy="544.8" r="3.9"/><circle cx="385.2" cy="551.2" r="3.9"/><circle cx="389.5" cy="558.7" r="3.9"/><circle cx="393.8" cy="572.6" r="3.9"/><circle cx="398.1" cy="589.7" r="3.9"/><circle cx="402.4" cy="615.3" r="3.9"/><circle cx="406.7" cy="634.5" r="3.9"/><circle cx="410.9" cy="652.1" r="3.9"/><circle cx="415.2" cy="686.2" r="3.9"/><circle cx="419.5" cy="712.4" r="3.9"/><circle cx="423.8" cy="735.3" r="3.9"/><circle cx="428.1" cy="744.4" r="3.9"/></g>
<g fill="#ff0000" stroke="#c80000" stroke-width="0.8"><circle cx="76.8" cy="517.1" r="3.9"/><circle cx="81.1" cy="486.1" r="3.9"/><circle cx="85.4" cy="497.9" r="3.9"/><circle cx="89.6" cy="499.5" r="3.9"/><circle cx="93.9" cy="491.0" r="3.9"/><circle cx="98.2" cy="484.0" r="3.9"/><circle cx="102.5" cy="487.9" r="3.9"/><circle cx="106.8" cy="487.7" r="3.9"/><circle cx="111.1" cy="487.4" r="3.9"/><circle cx="115.3" cy="487.5" r="3.9"/><circle cx="119.6" cy="487.6" r="3.9"/><circle cx="123.9" cy="487.4" r="3.9"/><circle cx="128.2" cy="486.6" r="3.9"/><circle cx="132.5" cy="487.7" r="3.9"/><circle cx="136.8" cy="487.9" r="3.9"/><circle cx="141.0" cy="487.2" r="3.9"/><circle cx="145.3" cy="488.5" r="3.9"/><circle cx="149.6" cy="488.3" r="3.9"/><circle cx="153.9" cy="486.5" r="3.9"/><circle cx="158.2" cy="487.7" r="3.9"/><circle cx="162.5" cy="487.6" r="3.9"/><circle cx="166.7" cy="489.1" r="3.9"/><circle cx="171.0" cy="488.0" r="3.9"/><circle cx="175.3" cy="487.5" r="3.9"/><circle cx="179.6" cy="489.0" r="3.9"/><circle cx="183.9" cy="487.4" r="3.9"/><circle cx="188.2" cy="487.4" r="3.9"/><circle cx="192.5" cy="488.9" r="3.9"/><circle cx="196.7" cy="487.4" r="3.9"/><circle cx="201.0" cy="487.8" r="3.9"/><circle cx="205.3" cy="480.3" r="3.9"/><circle cx="209.6" cy="481.2" r="3.9"/><circle cx="213.9" cy="480.3" r="3.9"/><circle cx="218.2" cy="480.2" r="3.9"/><circle cx="222.4" cy="482.1" r="3.9"/><circle cx="226.7" cy="482.0" r="3.9"/><circle cx="231.0" cy="480.3" r="3.9"/><circle cx="235.3" cy="479.6" r="3.9"/><circle cx="239.6" cy="481.5" r="3.9"/><circle cx="243.9" cy="480.9" r="3.9"/><circle cx="248.1" cy="480.6" r="3.9"/><circle cx="252.4" cy="481.3" r="3.9"/><circle cx="256.7" cy="481.2" r="3.9"/><circle cx="261.0" cy="481.3" r="3.9"/><circle cx="265.3" cy="481.2" r="3.9"/><circle cx="269.6" cy="480.6" r="3.9"/><circle cx="273.8" cy="481.3" r="3.9"/><circle cx="278.1" cy="481.1" r="3.9"/><circle cx="282.4" cy="480.1" r="3.9"/><circle cx="286.7" cy="482.1" r="3.9"/><circle cx="291.0" cy="480.6" r="3.9"/><circle cx="295.3" cy="480.2" r="3.9"/><circle cx="299.6" cy="481.3" r="3.9"/><circle cx="303.8" cy="481.6" r="3.9"/><circle cx="308.1" cy="480.0" r="3.9"/><circle cx="312.4" cy="481.9" r="3.9"/><circle cx="316.7" cy="482.5" r="3.9"/><circle cx="321.0" cy="482.3" r="3.9"/><circle cx="325.3" cy="482.0" r="3.9"/><circle cx="329.5" cy="484.0" r="3.9"/><circle cx="333.8" cy="483.8" r="3.9"/><circle cx="338.1" cy="484.2" r="3.9"/><circle cx="342.4" cy="483.3" r="3.9"/><circle cx="346.7" cy="484.8" r="3.9"/><circle cx="351.0" cy="484.1" r="3.9"/><circle cx="355.2" cy="486.4" r="3.9"/><circle cx="359.5" cy="486.4" r="3.9"/><circle cx="363.8" cy="486.0" r="3.9"/><circle cx="368.1" cy="485.8" r="3.9"/><circle cx="372.4" cy="487.3" r="3.9"/><circle cx="376.7" cy="488.4" r="3.9"/><circle cx="380.9" cy="489.1" r="3.9"/><circle cx="385.2" cy="488.4" r="3.9"/><circle cx="389.5" cy="489.7" r="3.9"/><circle cx="393.8" cy="488.5" r="3.9"/><circle cx="398.1" cy="491.5" r="3.9"/><circle cx="402.4" cy="503.2" r="3.9"/><circle cx="406.7" cy="493.1" r="3.9"/><circle cx="410.9" cy="496.3" r="3.9"/><circle cx="415.2" cy="499.5" r="3.9"/><circle cx="419.5" cy="504.3" r="3.9"/><circle cx="423.8" cy="516.6" r="3.9"/><circle cx="428.1" cy="523.5" r="3.9"/><circle cx="432.4" cy="508.6" r="3.9"/><circle cx="436.6" cy="513.4" r="3.9"/><circle cx="440.9" cy="507.5" r="3.9"/><circle cx="445.2" cy="532.6" r="3.9"/><circle cx="449.5" cy="538.4" r="3.9"/><circle cx="453.8" cy="499.5" r="3.9"/><circle cx="458.1" cy="525.1" r="3.9"/><circle cx="462.3" cy="521.9" r="3.9"/><circle cx="466.6" cy="535.2" r="3.9"/><circle cx="470.9" cy="533.1" r="3.9"/><circle cx="475.2" cy="549.6" r="3.9"/><circle cx="479.5" cy="560.9" r="3.9"/><circle cx="483.8" cy="561.4" r="3.9"/><circle cx="488.0" cy="582.7" r="3.9"/><circle cx="492.3" cy="590.2" r="3.9"/><circle cx="496.6" cy="561.4" r="3.9"/></g>
<g fill="#0000ff" stroke="#0000b0" stroke-width="0.8"><circle cx="76.8" cy="510.2" r="3.9"/><circle cx="81.1" cy="474.4" r="3.9"/><circle cx="85.4" cy="491.0" r="3.9"/><circle cx="89.6" cy="495.2" r="3.9"/><circle cx="93.9" cy="493.6" r="3.9"/><circle cx="98.2" cy="482.9" r="3.9"/><circle cx="102.5" cy="486.1" r="3.9"/><circle cx="106.8" cy="485.2" r="3.9"/><circle cx="111.1" cy="482.9" r="3.9"/><circle cx="115.3" cy="482.8" r="3.9"/><circle cx="119.6" cy="481.7" r="3.9"/><circle cx="123.9" cy="482.6" r="3.9"/><circle cx="128.2" cy="482.7" r="3.9"/><circle cx="132.5" cy="481.5" r="3.9"/><circle cx="136.8" cy="479.3" r="3.9"/><circle cx="141.0" cy="481.0" r="3.9"/><circle cx="145.3" cy="480.7" r="3.9"/><circle cx="149.6" cy="480.4" r="3.9"/><circle cx="153.9" cy="480.3" r="3.9"/><circle cx="158.2" cy="473.9" r="3.9"/><circle cx="162.5" cy="478.6" r="3.9"/><circle cx="166.7" cy="481.0" r="3.9"/><circle cx="171.0" cy="481.4" r="3.9"/><circle cx="175.3" cy="477.6" r="3.9"/><circle cx="179.6" cy="478.5" r="3.9"/><circle cx="183.9" cy="478.7" r="3.9"/><circle cx="188.2" cy="481.0" r="3.9"/><circle cx="192.5" cy="479.9" r="3.9"/><circle cx="196.7" cy="480.5" r="3.9"/><circle cx="201.0" cy="483.3" r="3.9"/><circle cx="205.3" cy="482.2" r="3.9"/><circle cx="209.6" cy="482.4" r="3.9"/><circle cx="213.9" cy="483.5" r="3.9"/><circle cx="218.2" cy="484.7" r="3.9"/><circle cx="222.4" cy="486.2" r="3.9"/><circle cx="226.7" cy="486.7" r="3.9"/><circle cx="231.0" cy="487.8" r="3.9"/><circle cx="235.3" cy="489.1" r="3.9"/><circle cx="239.6" cy="488.1" r="3.9"/><circle cx="243.9" cy="489.8" r="3.9"/><circle cx="248.1" cy="488.9" r="3.9"/><circle cx="252.4" cy="491.8" r="3.9"/><circle cx="256.7" cy="489.4" r="3.9"/><circle cx="261.0" cy="490.5" r="3.9"/><circle cx="265.3" cy="490.2" r="3.9"/><circle cx="269.6" cy="490.7" r="3.9"/><circle cx="273.8" cy="491.2" r="3.9"/><circle cx="278.1" cy="492.7" r="3.9"/><circle cx="282.4" cy="494.9" r="3.9"/><circle cx="286.7" cy="493.0" r="3.9"/><circle cx="291.0" cy="495.3" r="3.9"/><circle cx="295.3" cy="495.3" r="3.9"/><circle cx="299.6" cy="501.6" r="3.9"/><circle cx="303.8" cy="505.4" r="3.9"/><circle cx="308.1" cy="500.0" r="3.9"/><circle cx="312.4" cy="509.6" r="3.9"/><circle cx="316.7" cy="492.6" r="3.9"/><circle cx="321.0" cy="507.0" r="3.9"/><circle cx="325.3" cy="516.6" r="3.9"/><circle cx="329.5" cy="515.0" r="3.9"/><circle cx="333.8" cy="504.3" r="3.9"/><circle cx="338.1" cy="509.6" r="3.9"/><circle cx="342.4" cy="511.8" r="3.9"/><circle cx="346.7" cy="514.4" r="3.9"/><circle cx="351.0" cy="545.4" r="3.9"/><circle cx="355.2" cy="532.0" r="3.9"/><circle cx="359.5" cy="539.5" r="3.9"/><circle cx="363.8" cy="550.7" r="3.9"/><circle cx="368.1" cy="567.8" r="3.9"/><circle cx="372.4" cy="558.7" r="3.9"/><circle cx="376.7" cy="574.7" r="3.9"/></g>
<g fill="#000000" stroke="#000000" stroke-width="0.8"><circle cx="76.8" cy="515.0" r="3.9"/><circle cx="81.1" cy="475.5" r="3.9"/><circle cx="85.4" cy="492.0" r="3.9"/><circle cx="89.6" cy="493.6" r="3.9"/><circle cx="93.9" cy="489.4" r="3.9"/><circle cx="98.2" cy="487.8" r="3.9"/><circle cx="102.5" cy="488.9" r="3.9"/><circle cx="106.8" cy="488.8" r="3.9"/><circle cx="111.1" cy="488.5" r="3.9"/><circle cx="115.3" cy="486.6" r="3.9"/><circle cx="119.6" cy="486.9" r="3.9"/><circle cx="123.9" cy="487.1" r="3.9"/><circle cx="128.2" cy="486.8" r="3.9"/><circle cx="132.5" cy="484.7" r="3.9"/><circle cx="136.8" cy="485.1" r="3.9"/><circle cx="141.0" cy="483.9" r="3.9"/><circle cx="145.3" cy="484.6" r="3.9"/><circle cx="149.6" cy="484.6" r="3.9"/><circle cx="153.9" cy="483.3" r="3.9"/><circle cx="158.2" cy="482.1" r="3.9"/><circle cx="162.5" cy="483.8" r="3.9"/><circle cx="166.7" cy="482.2" r="3.9"/><circle cx="171.0" cy="481.8" r="3.9"/><circle cx="175.3" cy="482.1" r="3.9"/><circle cx="179.6" cy="482.1" r="3.9"/><circle cx="183.9" cy="484.3" r="3.9"/><circle cx="188.2" cy="482.6" r="3.9"/><circle cx="192.5" cy="482.0" r="3.9"/><circle cx="196.7" cy="484.1" r="3.9"/><circle cx="201.0" cy="483.6" r="3.9"/><circle cx="205.3" cy="483.6" r="3.9"/><circle cx="209.6" cy="482.9" r="3.9"/><circle cx="213.9" cy="483.2" r="3.9"/><circle cx="218.2" cy="483.7" r="3.9"/><circle cx="222.4" cy="483.5" r="3.9"/><circle cx="226.7" cy="486.3" r="3.9"/><circle cx="231.0" cy="486.8" r="3.9"/><circle cx="235.3" cy="487.3" r="3.9"/><circle cx="239.6" cy="488.0" r="3.9"/><circle cx="243.9" cy="488.8" r="3.9"/><circle cx="248.1" cy="487.0" r="3.9"/><circle cx="252.4" cy="487.7" r="3.9"/><circle cx="256.7" cy="490.0" r="3.9"/><circle cx="261.0" cy="489.2" r="3.9"/><circle cx="265.3" cy="490.1" r="3.9"/><circle cx="269.6" cy="490.4" r="3.9"/><circle cx="273.8" cy="488.8" r="3.9"/><circle cx="278.1" cy="491.0" r="3.9"/><circle cx="282.4" cy="493.6" r="3.9"/><circle cx="286.7" cy="493.6" r="3.9"/><circle cx="291.0" cy="492.6" r="3.9"/><circle cx="295.3" cy="496.3" r="3.9"/><circle cx="299.6" cy="487.2" r="3.9"/><circle cx="303.8" cy="487.8" r="3.9"/><circle cx="308.1" cy="492.6" r="3.9"/><circle cx="312.4" cy="499.0" r="3.9"/><circle cx="316.7" cy="496.3" r="3.9"/><circle cx="321.0" cy="498.4" r="3.9"/><circle cx="325.3" cy="506.4" r="3.9"/><circle cx="329.5" cy="495.2" r="3.9"/><circle cx="333.8" cy="492.6" r="3.9"/><circle cx="338.1" cy="494.7" r="3.9"/><circle cx="342.4" cy="503.8" r="3.9"/><circle cx="346.7" cy="501.6" r="3.9"/><circle cx="351.0" cy="505.9" r="3.9"/><circle cx="355.2" cy="500.6" r="3.9"/><circle cx="359.5" cy="496.8" r="3.9"/><circle cx="363.8" cy="515.0" r="3.9"/><circle cx="368.1" cy="512.8" r="3.9"/><circle cx="372.4" cy="508.0" r="3.9"/><circle cx="376.7" cy="500.0" r="3.9"/><circle cx="380.9" cy="507.5" r="3.9"/><circle cx="385.2" cy="520.8" r="3.9"/><circle cx="389.5" cy="513.4" r="3.9"/><circle cx="393.8" cy="500.0" r="3.9"/><circle cx="398.1" cy="534.2" r="3.9"/><circle cx="402.4" cy="521.9" r="3.9"/><circle cx="406.7" cy="512.8" r="3.9"/><circle cx="410.9" cy="517.1" r="3.9"/><circle cx="415.2" cy="505.4" r="3.9"/><circle cx="419.5" cy="516.6" r="3.9"/><circle cx="423.8" cy="505.4" r="3.9"/><circle cx="428.1" cy="529.4" r="3.9"/></g>
<g stroke="#000" stroke-width="2" fill="none">
<path d="M72.5 440.3 V794 M69 787.1 H502"/>
<path d="M66 787.1 H72.5"/>
<path d="M69 773.8 H72.5"/>
<path d="M66 760.4 H72.5"/>
<path d="M69 747.1 H72.5"/>
<path d="M66 733.7 H72.5"/>
<path d="M69 720.4 H72.5"/>
<path d="M66 707.1 H72.5"/>
<path d="M69 693.7 H72.5"/>
<path d="M66 680.4 H72.5"/>
<path d="M69 667.0 H72.5"/>
<path d="M66 653.7 H72.5"/>
<path d="M69 640.4 H72.5"/>
<path d="M66 627.0 H72.5"/>
<path d="M69 613.7 H72.5"/>
<path d="M66 600.3 H72.5"/>
<path d="M69 587.0 H72.5"/>
<path d="M66 573.7 H72.5"/>
<path d="M69 560.3 H72.5"/>
<path d="M66 547.0 H72.5"/>
<path d="M69 533.6 H72.5"/>
<path d="M66 520.3 H72.5"/>
<path d="M69 507.0 H72.5"/>
<path d="M66 493.6 H72.5"/>
<path d="M69 480.3 H72.5"/>
<path d="M66 466.9 H72.5"/>
<path d="M69 453.6 H72.5"/>
<path d="M66 440.3 H72.5"/>
<path d="M72.5 787.1 V794"/>
<path d="M93.9 787.1 V791"/>
<path d="M115.3 787.1 V794"/>
<path d="M136.8 787.1 V791"/>
<path d="M158.2 787.1 V794"/>
<path d="M179.6 787.1 V791"/>
<path d="M201.0 787.1 V794"/>
<path d="M222.4 787.1 V791"/>
<path d="M243.9 787.1 V794"/>
<path d="M265.3 787.1 V791"/>
<path d="M286.7 787.1 V794"/>
<path d="M308.1 787.1 V791"/>
<path d="M329.5 787.1 V794"/>
<path d="M351.0 787.1 V791"/>
<path d="M372.4 787.1 V794"/>
<path d="M393.8 787.1 V791"/>
<path d="M415.2 787.1 V794"/>
<path d="M436.6 787.1 V791"/>
<path d="M458.1 787.1 V794"/>
<path d="M479.5 787.1 V791"/>
<path d="M500.9 787.1 V794"/>
</g>
<g font-family='"Liberation Sans", sans-serif' font-weight="bold" fill="#000">
<text x="60.6" y="792.1" font-size="14.7" text-anchor="end">0.40</text>
<text x="60.6" y="765.4" font-size="14.7" text-anchor="end">0.45</text>
<text x="60.6" y="738.7" font-size="14.7" text-anchor="end">0.50</text>
<text x="60.6" y="712.1" font-size="14.7" text-anchor="end">0.55</text>
<text x="60.6" y="685.4" font-size="14.7" text-anchor="end">0.60</text>
<text x="60.6" y="658.7" font-size="14.7" text-anchor="end">0.65</text>
<text x="60.6" y="632.0" font-size="14.7" text-anchor="end">0.70</text>
<text x="60.6" y="605.3" font-size="14.7" text-anchor="end">0.75</text>
<text x="60.6" y="578.7" font-size="14.7" text-anchor="end">0.80</text>
<text x="60.6" y="552.0" font-size="14.7" text-anchor="end">0.85</text>
<text x="60.6" y="525.3" font-size="14.7" text-anchor="end">0.90</text>
<text x="60.6" y="498.6" font-size="14.7" text-anchor="end">0.95</text>
<text x="60.6" y="471.9" font-size="14.7" text-anchor="end">1.00</text>
<text x="60.6" y="445.3" font-size="14.7" text-anchor="end">1.05</text>
<text x="72.5" y="810" font-size="14" text-anchor="middle">0</text>
<text x="115.3" y="810" font-size="14" text-anchor="middle">10</text>
<text x="158.2" y="810" font-size="14" text-anchor="middle">20</text>
<text x="201.0" y="810" font-size="14" text-anchor="middle">30</text>
<text x="243.9" y="810" font-size="14" text-anchor="middle">40</text>
<text x="286.7" y="810" font-size="14" text-anchor="middle">50</text>
<text x="329.5" y="810" font-size="14" text-anchor="middle">60</text>
<text x="372.4" y="810" font-size="14" text-anchor="middle">70</text>
<text x="415.2" y="810" font-size="14" text-anchor="middle">80</text>
<text x="458.1" y="810" font-size="14" text-anchor="middle">90</text>
<text x="500.9" y="810" font-size="14" text-anchor="middle">100</text>
<text x="244" y="831" font-size="18">Cycle Number</text>
<text transform="translate(24.5 699.7) rotate(-90)" font-size="18">Coulombic Efficiency</text>
<text x="453.4" y="457.8" font-size="25" letter-spacing="0.8">(B)</text>
</g>
<rect x="84.95" y="962.15" width="71.70" height="263.35" fill="#7fbf7f" stroke="#3c5a3c" stroke-width="1.3"/>
<rect x="176.05" y="909.35" width="72.30" height="316.15" fill="#ff8000" stroke="#201000" stroke-width="1.3"/>
<rect x="267.45" y="902.85" width="71.80" height="322.65" fill="#ff0000" stroke="#200000" stroke-width="1.3"/>
<rect x="358.35" y="948.45" width="72.70" height="277.05" fill="#0000ff" stroke="#000020" stroke-width="1.3"/>
<rect x="449.75" y="942.25" width="73.20" height="283.25" fill="#000000" stroke="#000" stroke-width="1.3"/>
<g stroke="#000" stroke-width="1.8" fill="none">
<path d="M75.2 857.8 V1225.5 M68 1225.5 H532"/>
<path d="M68 1225.5 H75.2"/>
<path d="M71.3 1203.9 H75.2"/>
<path d="M68 1182.2 H75.2"/>
<path d="M71.3 1160.6 H75.2"/>
<path d="M68 1139.0 H75.2"/>
<path d="M71.3 1117.4 H75.2"/>
<path d="M68 1095.8 H75.2"/>
<path d="M71.3 1074.1 H75.2"/>
<path d="M68 1052.5 H75.2"/>
<path d="M71.3 1030.9 H75.2"/>
<path d="M68 1009.2 H75.2"/>
<path d="M71.3 987.6 H75.2"/>
<path d="M68 966.0 H75.2"/>
<path d="M71.3 944.4 H75.2"/>
<path d="M68 922.8 H75.2"/>
<path d="M71.3 901.1 H75.2"/>
<path d="M68 879.5 H75.2"/>
<path d="M71.3 857.9 H75.2"/>
</g>
<g font-family='"Liberation Sans", sans-serif' font-weight="bold" fill="#000">
<text x="62.5" y="1229.9" font-size="15.5" text-anchor="end">0</text>
<text x="62.5" y="1186.7" font-size="15.5" text-anchor="end">500</text>
<text x="62.5" y="1143.4" font-size="15.5" text-anchor="end">1000</text>
<text x="62.5" y="1100.2" font-size="15.5" text-anchor="end">1500</text>
<text x="62.5" y="1056.9" font-size="15.5" text-anchor="end">2000</text>
<text x="62.5" y="1013.6" font-size="15.5" text-anchor="end">2500</text>
<text x="62.5" y="970.4" font-size="15.5" text-anchor="end">3000</text>
<text x="62.5" y="927.1" font-size="15.5" text-anchor="end">3500</text>
<text x="62.5" y="883.9" font-size="15.5" text-anchor="end">4000</text>
<text x="120.8" y="1247" font-size="19" text-anchor="middle">0.0</text>
<text x="212.2" y="1247" font-size="19" text-anchor="middle">0.05</text>
<text x="303.4" y="1247" font-size="19" text-anchor="middle">0.10</text>
<text x="394.7" y="1247" font-size="19" text-anchor="middle">0.50</text>
<text x="486.4" y="1247" font-size="19" text-anchor="middle">1.0</text>
<text x="190" y="1272" font-size="19">Concentration LiDFOB/M</text>
<text transform="translate(16.2 1222.9) rotate(-90)" font-size="19.2">Sum of Reversibly Cycled Lithium/mAh/g</text>
<text x="88" y="875.4" font-size="17.6">FEC:DMC</text>
<text x="480.3" y="876.0" font-size="25" letter-spacing="0.8">(C)</text>
</g>
</svg>
</body></html>
